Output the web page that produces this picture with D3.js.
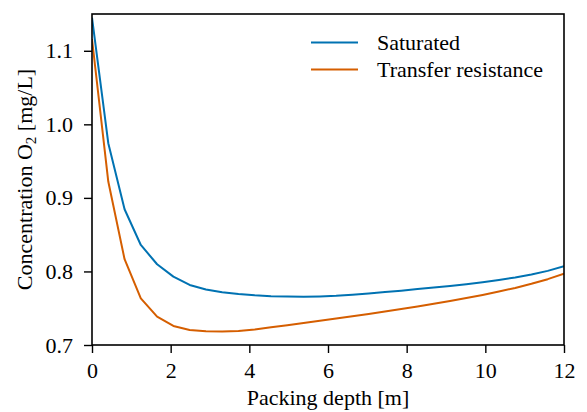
<!DOCTYPE html>
<html>
<head>
<meta charset="utf-8">
<script src="https://cdn.jsdelivr.net/npm/d3@7"></script>
<style>
  html, body { margin: 0; padding: 0; background: #fff; }
  svg text { font-family: 'Liberation Serif', 'Times New Roman', Times, serif; }
</style>
</head>
<body>
<svg id="chart" width="587" height="412"></svg>
<script>
// Packing depth [m] — 30 evenly spaced sample points
const depth = [0, 0.414, 0.828, 1.241, 1.655, 2.069, 2.483, 2.897, 3.310, 3.724,
  4.138, 4.552, 4.966, 5.379, 5.793, 6.207, 6.621, 7.034, 7.448, 7.862,
  8.276, 8.690, 9.103, 9.517, 9.931, 10.345, 10.759, 11.172, 11.586, 12];
const saturated = [1.145, 0.9744, 0.8846, 0.836, 0.8098, 0.7929, 0.7816, 0.7755, 0.7718, 0.7692,
  0.7675, 0.7664, 0.7658, 0.7656, 0.7660, 0.7668, 0.7682, 0.7700, 0.7719, 0.7739,
  0.7760, 0.7781, 0.7803, 0.7827, 0.7854, 0.7884, 0.7918, 0.7958, 0.8008, 0.8072];
const transferResistance = [1.116, 0.9222, 0.8166, 0.7635, 0.7385, 0.7259, 0.7204, 0.7188, 0.7182, 0.7189,
  0.7212, 0.7240, 0.7270, 0.7299, 0.7329, 0.7359, 0.7390, 0.7422, 0.7455, 0.7489,
  0.7524, 0.7561, 0.7599, 0.7639, 0.7681, 0.7726, 0.7776, 0.7832, 0.7895, 0.7968];
const seriesNames = ["Saturated", "Transfer resistance"];
const seriesColors = ["#0072B2", "#D55E00"];
const xTicks = [0, 2, 4, 6, 8, 10, 12];
const yTicks = [0.7, 0.8, 0.9, 1.0, 1.1];
const xLabel = "Packing depth [m]";

const FONT = "'Liberation Serif', 'Times New Roman', Times, serif";
const FS = 22;
const svg = d3.select("#chart");
const m = { left: 92, right: 564, top: 14, bottom: 345 };
const x = d3.scaleLinear().domain([0, 12]).range([m.left, m.right]);
const y = d3.scaleLinear().domain([0.7, 1.15]).range([m.bottom, m.top]);

svg.append("defs").append("clipPath").attr("id", "clip")
  .append("rect").attr("x", m.left).attr("y", m.top)
  .attr("width", m.right - m.left).attr("height", m.bottom - m.top);

// series lines
const line = d3.line().x((d, i) => x(depth[i])).y(d => y(d));
[saturated, transferResistance].forEach((s, k) => {
  svg.append("path").datum(s)
    .attr("clip-path", "url(#clip)")
    .attr("fill", "none")
    .attr("stroke", seriesColors[k])
    .attr("stroke-width", 2)
    .attr("stroke-linejoin", "round")
    .attr("d", line);
});

// axes
const xAxis = d3.axisBottom(x).tickValues(xTicks).tickFormat(d3.format("d"))
  .tickSize(8).tickPadding(9);
const gx = svg.append("g").attr("transform", `translate(0,${m.bottom})`).call(xAxis);
const yAxis = d3.axisLeft(y).tickValues(yTicks).tickFormat(d3.format(".1f"))
  .tickSize(8).tickPadding(11);
const gy = svg.append("g").attr("transform", `translate(${m.left},0)`).call(yAxis);
[gx, gy].forEach(g => {
  g.attr("font-family", FONT).attr("font-size", FS);
  g.select(".domain").remove();
  g.selectAll(".tick line").attr("stroke", "#000").attr("stroke-width", 1.4);
  g.selectAll(".tick text").attr("fill", "#000")
    .attr("font-family", FONT).attr("font-size", FS);
});

// frame
svg.append("rect").attr("x", m.left).attr("y", m.top)
  .attr("width", m.right - m.left).attr("height", m.bottom - m.top)
  .attr("fill", "none").attr("stroke", "#000").attr("stroke-width", 1.6);

// x label
svg.append("text").attr("x", (m.left + m.right) / 2).attr("y", 405)
  .attr("text-anchor", "middle").attr("font-family", FONT).attr("font-size", FS)
  .text(xLabel);

// y label with subscript
const yl = svg.append("text")
  .attr("transform", `translate(32,${(m.top + m.bottom) / 2}) rotate(-90)`)
  .attr("text-anchor", "middle").attr("font-family", FONT).attr("font-size", FS);
yl.append("tspan").text("Concentration O");
yl.append("tspan").attr("dy", 4).attr("font-size", 15).text("2");
yl.append("tspan").attr("dy", -4).text(" [mg/L]");

// legend
const lg = svg.append("g");
seriesNames.forEach((n, k) => {
  const ly = 42.5 + k * 27;
  lg.append("line").attr("x1", 311).attr("x2", 358).attr("y1", ly).attr("y2", ly)
    .attr("stroke", seriesColors[k]).attr("stroke-width", 2);
  lg.append("text").attr("x", 377).attr("y", ly + 7)
    .attr("font-family", FONT).attr("font-size", FS).text(n);
});
</script>
</body>
</html>
